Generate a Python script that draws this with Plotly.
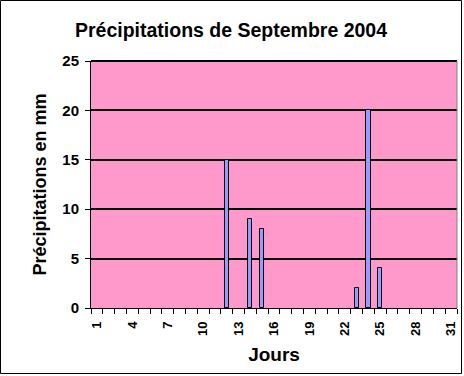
import plotly.graph_objects as go

days = list(range(1, 32))
rain_mm = [0, 0, 0, 0, 0, 0, 0, 0, 0, 0, 0, 15, 0, 9, 8, 0,
           0, 0, 0, 0, 0, 0, 2, 20, 4, 0, 0, 0, 0, 0, 0]
x_tick_vals = list(range(1, 32, 3))
x_tick_text = [str(v) for v in x_tick_vals]
x_boundaries = [i + 0.5 for i in range(0, 32)]
y_tick_vals = [0, 5, 10, 15, 20, 25]

W, H = 464, 376
ML, MR, MT, MB = 91, 7, 61, 68
pw, ph = W - ML - MR, H - MT - MB

fig = go.Figure()
fig.add_trace(go.Bar(
    x=days, y=[v if v else None for v in rain_mm], width=0.35,
    marker=dict(color="#9999FF", line=dict(color="black", width=1)),
))
fig.add_trace(go.Scatter(x=[days[0]], y=[0], xaxis="x2", yaxis="y",
                         mode="markers", marker=dict(opacity=0), hoverinfo="skip"))

font_family = "Liberation Sans, Arial, sans-serif"
fig.update_layout(
    width=W, height=H,
    margin=dict(l=ML, r=MR, t=MT, b=MB),
    paper_bgcolor="white", plot_bgcolor="#FF99CC",
    showlegend=False, bargap=0,
    font=dict(family=font_family, color="black"),
    title=dict(text="Précipitations de Septembre 2004", x=231/W, xanchor="center",
               y=1-30/H, yanchor="middle",
               font=dict(size=19.5, weight="bold", family=font_family)),
    xaxis=dict(
        range=[0.5, 31.5], tickmode="array", tickvals=x_boundaries,
        ticktext=[""]*len(x_boundaries),
        ticks="outside", ticklen=5, tickcolor="black", tickwidth=1,
        showgrid=False, zeroline=False,
        showline=True, linecolor="black", linewidth=1,
    ),
    xaxis2=dict(
        range=[0.5, 31.5], overlaying="x", anchor="y", side="bottom",
        tickmode="array", tickvals=x_tick_vals, ticktext=x_tick_text,
        tickangle=-90, ticks="", showgrid=False, zeroline=False, showline=False,
        tickfont=dict(size=13, weight="bold"), ticklabelstandoff=10,
        title=dict(text="Jours", font=dict(size=19, weight="bold"), standoff=12),
    ),
    yaxis=dict(
        range=[0, 25], tickmode="array", tickvals=y_tick_vals,
        ticks="outside", ticklen=5, tickcolor="black", tickwidth=1,
        showgrid=True, gridcolor="black", gridwidth=2, zeroline=False,
        showline=True, linecolor="black", linewidth=1,
        tickfont=dict(size=15, weight="bold"), ticklabelstandoff=3,
        title=dict(text="Précipitations en mm", font=dict(size=18, weight="bold"), standoff=11),
    ),
)

# plot-area top edge (black, the 25 gridline), right edge (gray), outer chart border (black)
fig.add_shape(type="line", xref="paper", yref="paper", x0=0, y0=1, x1=1, y1=1,
              line=dict(color="black", width=2), layer="above")
fig.add_shape(type="line", xref="paper", yref="paper", x0=1, y0=0, x1=1, y1=1,
              line=dict(color="#808080", width=1), layer="above")
fig.add_shape(type="rect", xref="paper", yref="paper",
              x0=-(ML - 0.5)/pw, x1=1 + (MR - 2.5)/pw,
              y0=-(MB - 2.5)/ph, y1=1 + (MT - 0.5)/ph,
              line=dict(color="black", width=1), layer="above")

fig.write_html("out.html", config={"displayModeBar": False},
               post_script="document.body.style.margin='0';document.body.style.overflow='hidden';")
